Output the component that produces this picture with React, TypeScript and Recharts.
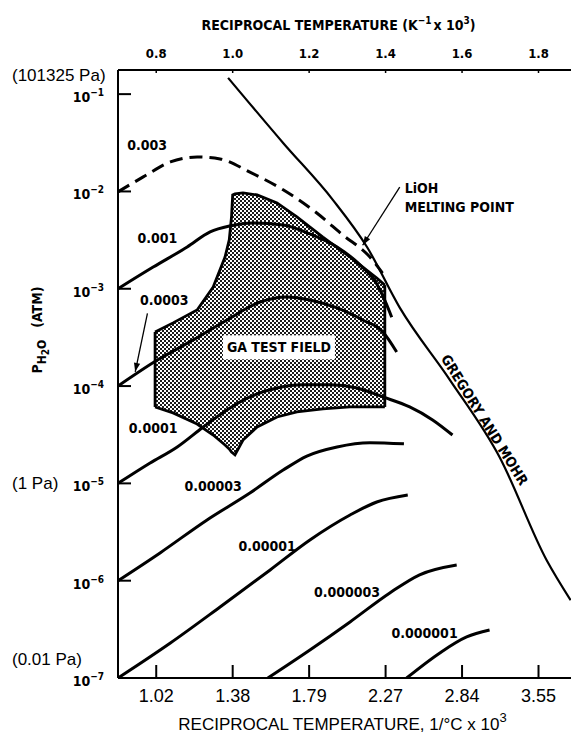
import {
  ComposedChart,
  Line,
  Area,
  XAxis,
  YAxis,
  ReferenceLine,
  ReferenceDot,
} from 'recharts'

// top axis: reciprocal temperature K^-1 x 10^3, bottom axis shows the same ticks in 1/°C x 10^3
const kelvinTicks = [0.8, 1.0, 1.2, 1.4, 1.6, 1.8]
const celsiusLabels = ['1.02', '1.38', '1.79', '2.27', '2.84', '3.55']
const pressureTicks = [1e-1, 1e-2, 1e-3, 1e-4, 1e-5, 1e-6, 1e-7]
const pascalLabels = [
  { p: 1e-1, text: '(101325 Pa)', inline: false },
  { p: 1e-5, text: '(1 Pa)', inline: true },
  { p: 1e-7, text: '(0.01 Pa)', inline: false },
]

// [1/K x 10^3, P_H2O atm]
const gregoryMohr = [
  [0.988, 1.47e-1], [1.132, 3.15e-2], [1.262, 8.2e-3], [1.351, 2.7e-3], [1.437, 6.4e-4],
  [1.568, 1.16e-4], [1.698, 1.87e-5], [1.821, 1.63e-6], [1.884, 6.3e-7],
]
const curve003 = [
  [0.7, 9.9e-3], [0.766, 1.41e-2], [0.837, 2.01e-2], [0.907, 2.26e-2], [0.967, 2.16e-2],
  [1.045, 1.58e-2], [1.132, 1.04e-2], [1.22, 6.0e-3], [1.288, 3.57e-3], [1.359, 2.12e-3],
  [1.392, 1.45e-3],
]
const curve001 = [
  [0.7, 1.0e-3], [0.792, 1.67e-3], [0.881, 2.69e-3], [0.941, 3.84e-3], [0.993, 4.42e-3],
  [1.053, 4.74e-3], [1.132, 4.52e-3], [1.202, 3.66e-3], [1.273, 2.69e-3], [1.333, 1.76e-3],
  [1.377, 1.12e-3], [1.4, 7.3e-4], [1.416, 5.1e-4],
]
const curve0003 = [
  [0.7, 1.0e-4], [0.803, 1.85e-4], [0.897, 2.98e-4], [0.985, 4.78e-4], [1.072, 7.31e-4],
  [1.142, 8.24e-4], [1.202, 7.67e-4], [1.273, 6.35e-4], [1.34, 4.78e-4], [1.393, 3.6e-4],
  [1.429, 2.24e-4],
]
const curve0001 = [
  [0.7, 1.0e-5], [0.784, 1.62e-5], [0.855, 2.37e-5], [0.923, 3.8e-5], [0.985, 5.68e-5],
  [1.045, 7.73e-5], [1.116, 9.55e-5], [1.184, 1.03e-4], [1.254, 1.03e-4], [1.325, 9.55e-5],
  [1.393, 7.73e-5], [1.463, 6.1e-5], [1.523, 4.49e-5], [1.575, 3.14e-5],
]
const curve00003 = [
  [0.7, 1.0e-6], [0.81, 1.93e-6], [0.933, 4.21e-6], [1.045, 7.96e-6], [1.132, 1.37e-5],
  [1.194, 1.91e-5], [1.273, 2.37e-5], [1.359, 2.62e-5], [1.448, 2.55e-5],
]
const curve00001 = [
  [0.7, 1.0e-7], [0.837, 2.29e-7], [0.967, 5.37e-7], [1.098, 1.29e-6], [1.202, 2.62e-6],
  [1.307, 4.73e-6], [1.377, 6.44e-6], [1.458, 7.6e-6],
]
const curve000003 = [
  [1.092, 1.0e-7], [1.202, 1.94e-7], [1.307, 3.77e-7], [1.411, 7.48e-7], [1.489, 1.15e-6],
  [1.586, 1.45e-6],
]
const curve000001 = [
  [1.455, 1.0e-7], [1.542, 1.81e-7], [1.612, 2.64e-7], [1.672, 3.11e-7],
]

// GA test field: x with lower / upper boundary
const fieldX = [
  0.797, 0.844, 0.907, 0.949, 0.98, 0.991, 0.997, 1.0, 1.006, 1.027, 1.064, 1.116, 1.168,
  1.236, 1.307, 1.377, 1.398,
]
const fieldHigh = [
  3.6e-4, 4.46e-4, 6.05e-4, 1.04e-3, 2.12e-3, 3.18e-3, 5.52e-3, 9.2e-3, 9.42e-3, 9.66e-3,
  9.2e-3, 7.62e-3, 5.47e-3, 3.4e-3, 2.12e-3, 1.29e-3, 1.09e-3,
]
const fieldLow = [
  6.1e-5, 5.3e-5, 4.07e-5, 3.14e-5, 2.48e-5, 2.26e-5, 2.1e-5, 2.05e-5, 1.96e-5, 2.79e-5,
  3.8e-5, 4.81e-5, 5.42e-5, 5.82e-5, 6.1e-5, 6.1e-5, 6.1e-5,
]

const curveLabels = [
  { text: '0.003', x: 0.776, p: 3.0e-2 },
  { text: '0.001', x: 0.803, p: 3.3e-3 },
  { text: '0.0003', x: 0.821, p: 7.7e-4 },
  { text: '0.0001', x: 0.792, p: 3.7e-5 },
  { text: '0.00003', x: 0.949, p: 9.4e-6 },
  { text: '0.00001', x: 1.09, p: 2.28e-6 },
  { text: '0.000003', x: 1.299, p: 7.7e-7 },
  { text: '0.000001', x: 1.502, p: 2.9e-7 },
]

const arrows = [
  { from: [1.437, 1.11e-2], to: [1.34, 2.8e-3] },
  { from: [0.777, 5.6e-4], to: [0.745, 1.4e-4] },
]

const COND = "'Liberation Sans Narrow', 'DejaVu Sans Condensed', 'Arial Narrow', sans-serif"
const PLAIN = "'Liberation Sans', Arial, Helvetica, sans-serif"

const toPoints = (pairs: number[][]) => pairs.map(([x, p]) => ({ x, p }))

const solidCurves = [curve001, curve0003, curve0001, curve00003, curve00001, curve000003, curve000001]

function PressureTick({ x, y, payload }: any) {
  const exp = Math.round(Math.log10(payload.value))
  const pa = pascalLabels.find((d) => d.p === payload.value)
  return (
    <g>
      <line x1={x} y1={y} x2={x + 13} y2={y} stroke="#000" strokeWidth={2} />
      <text x={x - 14} y={y + 8} textAnchor="end" fontFamily={COND} fontWeight="bold" fontSize={14} fill="#000">
        10
        <tspan dy={-6} fontSize={10}>{`−${-exp}`}</tspan>
      </text>
      {pa && (
        <text x={12} y={pa.inline ? y + 6 : y - 13} fontFamily={PLAIN} fontSize={17} fill="#000">
          {pa.text}
        </text>
      )}
    </g>
  )
}

function CelsiusTick({ x, y, payload }: any) {
  const label = celsiusLabels[kelvinTicks.indexOf(payload.value)]
  return (
    <g>
      <line x1={x} y1={y} x2={x} y2={y - 13} stroke="#000" strokeWidth={2} />
      <text x={x} y={y + 24} textAnchor="middle" fontFamily={PLAIN} fontSize={18} fill="#000">
        {label}
      </text>
    </g>
  )
}

function KelvinTick({ x, y, payload }: any) {
  return (
    <g>
      <line x1={x} y1={y} x2={x} y2={y + 3} stroke="#000" strokeWidth={1.5} />
      <text x={x} y={y - 12} textAnchor="middle" fontFamily={COND} fontWeight="bold" fontSize={13} fill="#000">
        {payload.value.toFixed(1)}
      </text>
    </g>
  )
}

function BottomTitle({ viewBox }: any) {
  const { x, y, width } = viewBox
  return (
    <text x={x + width / 2 - 2} y={y + 52} textAnchor="middle" fontFamily={PLAIN} fontSize={17} fill="#000">
      RECIPROCAL TEMPERATURE, 1/°C x 10
      <tspan dy={-8} fontSize={13}>3</tspan>
    </text>
  )
}

function TopTitle({ viewBox }: any) {
  const { x, y, width } = viewBox
  return (
    <text x={x + width / 2 - 6} y={y + 30} textAnchor="middle" fontFamily={COND} fontWeight="bold" fontSize={14} fill="#000">
      RECIPROCAL TEMPERATURE (K
      <tspan dy={-6} fontSize={10}>−1</tspan>
      <tspan dy={6} dx={2}>x 10</tspan>
      <tspan dy={-6} fontSize={10}>3</tspan>
      <tspan dy={6}>)</tspan>
    </text>
  )
}

function PressureTitle({ viewBox }: any) {
  const cx = viewBox.x + 42
  const cy = viewBox.y + 260
  return (
    <text
      x={cx}
      y={cy}
      transform={`rotate(-90, ${cx}, ${cy})`}
      textAnchor="middle"
      fontFamily={COND}
      fontWeight="bold"
      fontSize={14}
      fill="#000"
    >
      P
      <tspan dy={4} fontSize={12}>H</tspan>
      <tspan dy={3} fontSize={10}>2</tspan>
      <tspan dy={-3} fontSize={12}>O</tspan>
      <tspan dy={-4} dx={12}>(ATM)</tspan>
    </text>
  )
}

const arrowShape = (p: any) => (
  <line x1={p.x1} y1={p.y1} x2={p.x2} y2={p.y2} stroke="#000" strokeWidth={1.3} markerEnd="url(#arrowHead)" />
)

export default function App() {
  const fieldData = fieldX.map((x, i) => ({ x, range: [fieldLow[i], fieldHigh[i]] }))
  const last = fieldX.length - 1

  return (
    <div style={{ position: 'absolute', left: 0, top: 0, background: '#fff' }}>
      <ComposedChart width={571} height={741} margin={{ top: 0, right: 0, bottom: 0, left: 0 }}>
        <defs>
          <pattern id="stipple" width={4} height={4} patternUnits="userSpaceOnUse">
            <rect width={4} height={4} fill="#fff" />
            <rect x={0} y={0} width={2} height={2} fill="#1a1a1a" />
            <rect x={2} y={2} width={2} height={2} fill="#1a1a1a" />
          </pattern>
          <marker
            id="arrowHead"
            viewBox="0 0 10 10"
            refX={10}
            refY={5}
            markerWidth={11}
            markerHeight={9}
            markerUnits="userSpaceOnUse"
            orient="auto"
          >
            <path d="M0,1.5 L10,5 L0,8.5 z" fill="#000" />
          </marker>
        </defs>

        <XAxis
          xAxisId="k"
          dataKey="x"
          type="number"
          domain={[0.7, 1.885]}
          allowDataOverflow
          ticks={kelvinTicks}
          interval={0}
          orientation="bottom"
          height={63}
          axisLine={{ stroke: '#000', strokeWidth: 2 }}
          tickLine={false}
          tickSize={0}
          tickMargin={0}
          tick={<CelsiusTick />}
          label={<BottomTitle />}
        />
        <XAxis
          xAxisId="top"
          dataKey="x"
          type="number"
          domain={[0.7, 1.885]}
          allowDataOverflow
          ticks={kelvinTicks}
          interval={0}
          orientation="top"
          height={70}
          axisLine={{ stroke: '#000', strokeWidth: 2 }}
          tickLine={false}
          tickSize={0}
          tickMargin={0}
          tick={<KelvinTick />}
          label={<TopTitle />}
        />
        <YAxis
          yAxisId="p"
          type="number"
          scale="log"
          domain={[1e-7, 0.177]}
          allowDataOverflow
          ticks={pressureTicks}
          interval={0}
          width={118}
          axisLine={{ stroke: '#000', strokeWidth: 2 }}
          tickLine={false}
          tickSize={0}
          tickMargin={0}
          tick={<PressureTick />}
          label={<PressureTitle />}
        />

        <Area
          xAxisId="k"
          yAxisId="p"
          data={fieldData}
          dataKey="range"
          type="linear"
          fill="url(#stipple)"
          fillOpacity={1}
          stroke="#000"
          strokeWidth={2.8}
          isAnimationActive={false}
        />
        <ReferenceLine
          xAxisId="k"
          yAxisId="p"
          segment={[{ x: fieldX[0], y: fieldLow[0] }, { x: fieldX[0], y: fieldHigh[0] }]}
          stroke="#000"
          strokeWidth={2.8}
        />
        <ReferenceLine
          xAxisId="k"
          yAxisId="p"
          segment={[{ x: fieldX[last], y: fieldLow[last] }, { x: fieldX[last], y: fieldHigh[last] }]}
          stroke="#000"
          strokeWidth={2.8}
        />

        <Line
          xAxisId="k"
          yAxisId="p"
          data={toPoints(gregoryMohr)}
          dataKey="p"
          type="monotone"
          stroke="#000"
          strokeWidth={2.2}
          dot={false}
          activeDot={false}
          isAnimationActive={false}
        />
        <Line
          xAxisId="k"
          yAxisId="p"
          data={toPoints(curve003)}
          dataKey="p"
          type="monotone"
          stroke="#000"
          strokeWidth={3}
          strokeDasharray="13 7"
          dot={false}
          activeDot={false}
          isAnimationActive={false}
        />
        {solidCurves.map((c, i) => (
          <Line
            key={i}
            xAxisId="k"
            yAxisId="p"
            data={toPoints(c)}
            dataKey="p"
            type="monotone"
            stroke="#000"
            strokeWidth={3}
            dot={false}
            activeDot={false}
            isAnimationActive={false}
          />
        ))}

        {arrows.map((a, i) => (
          <ReferenceLine
            key={i}
            xAxisId="k"
            yAxisId="p"
            segment={[{ x: a.from[0], y: a.from[1] }, { x: a.to[0], y: a.to[1] }]}
            shape={arrowShape}
          />
        ))}

        {curveLabels.map((l) => (
          <ReferenceDot
            key={l.text}
            xAxisId="k"
            yAxisId="p"
            x={l.x}
            y={l.p}
            shape={(p: any) => (
              <text x={p.cx} y={p.cy + 5} textAnchor="middle" fontFamily={COND} fontWeight="bold" fontSize={14} fill="#000">
                {l.text}
              </text>
            )}
          />
        ))}

        <ReferenceDot
          xAxisId="k"
          yAxisId="p"
          x={1.121}
          y={2.5e-4}
          shape={(p: any) => (
            <g>
              <rect x={p.cx - 56} y={p.cy - 12} width={112} height={24} fill="#fff" />
              <text x={p.cx} y={p.cy + 5} textAnchor="middle" fontFamily={COND} fontWeight="bold" fontSize={14} fill="#000">
                GA TEST FIELD
              </text>
            </g>
          )}
        />
        <ReferenceDot
          xAxisId="k"
          yAxisId="p"
          x={1.45}
          y={1.09e-2}
          shape={(p: any) => (
            <text x={p.cx} y={p.cy + 5} fontFamily={COND} fontWeight="bold" fontSize={14} fill="#000">
              LiOH
              <tspan x={p.cx} dy={19}>MELTING POINT</tspan>
            </text>
          )}
        />
        <ReferenceDot
          xAxisId="k"
          yAxisId="p"
          x={1.659}
          y={4.5e-5}
          shape={(p: any) => (
            <text
              x={p.cx}
              y={p.cy + 5}
              transform={`rotate(58, ${p.cx}, ${p.cy})`}
              textAnchor="middle"
              fontFamily={COND}
              fontWeight="bold"
              fontSize={14}
              fill="#000"
            >
              GREGORY AND MOHR
            </text>
          )}
        />
      </ComposedChart>
    </div>
  )
}
